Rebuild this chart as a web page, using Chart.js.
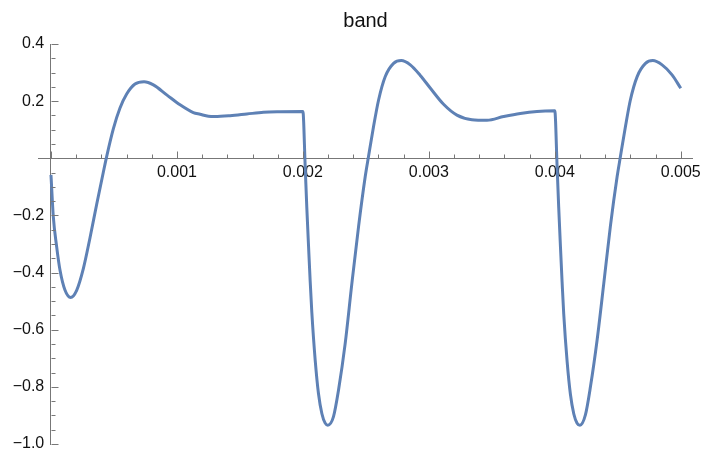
<!DOCTYPE html>
<html>
<head>
<meta charset="utf-8">
<script src="https://cdn.jsdelivr.net/npm/chart.js@4.4.1/dist/chart.umd.min.js"></script>
<style>
  html, body { margin: 0; padding: 0; background: #ffffff; }
  canvas { display: block; }
</style>
</head>
<body>
<canvas id="c" width="706" height="458"></canvas>
<script>
// ---- data ----
const xValues = [
  // first period
  0, 0.0000185, 0.000045, 0.0000715, 0.000111, 0.000156, 0.000204, 0.000257, 0.00031, 0.000363,
  0.000416, 0.000442, 0.000495, 0.000548, 0.000601, 0.000667, 0.000739, 0.000813, 0.000919, 0.001025,
  0.00113, 0.001184, 0.00125, 0.0013, 0.001422, 0.001555, 0.001687, 0.00182, 0.002,
  // second period
  0.002018, 0.002031, 0.002045, 0.002058, 0.002071, 0.002098, 0.002124, 0.002151, 0.002177, 0.002198,
  0.002243, 0.002283, 0.002336, 0.002389, 0.002442, 0.002495, 0.002521, 0.002561, 0.002601, 0.002654,
  0.00272, 0.002781, 0.002853, 0.002932, 0.003011, 0.003117, 0.003223, 0.003342, 0.003462, 0.003594,
  0.003726, 0.003859, 0.004,
  // third period
  0.004018, 0.004031, 0.004045, 0.004058, 0.004071, 0.004098, 0.004124, 0.004151, 0.004177, 0.0042,
  0.004243, 0.004283, 0.004336, 0.004389, 0.004441, 0.004495, 0.004521, 0.004561, 0.0046, 0.004654,
  0.00472, 0.004778, 0.004852, 0.004931, 0.005
];
const yValues = [
  // first period
  -0.058, -0.204, -0.309, -0.391, -0.461, -0.487, -0.462, -0.386, -0.278, -0.161,
  -0.048, 0.006, 0.103, 0.176, 0.225, 0.260, 0.268, 0.257, 0.222, 0.187,
  0.160, 0.154, 0.147, 0.146, 0.149, 0.155, 0.161, 0.163, 0.164,
  // second period
  -0.025, -0.171, -0.308, -0.431, -0.539, -0.708, -0.824, -0.894, -0.927, -0.934,
  -0.904, -0.811, -0.648, -0.438, -0.239, -0.064, 0.006, 0.111, 0.204, 0.286,
  0.332, 0.342, 0.327, 0.290, 0.246, 0.189, 0.151, 0.135, 0.133, 0.146,
  0.157, 0.164, 0.166,
  // third period
  -0.025, -0.171, -0.310, -0.433, -0.545, -0.712, -0.826, -0.895, -0.927, -0.934,
  -0.898, -0.800, -0.636, -0.438, -0.239, -0.064, 0.006, 0.111, 0.204, 0.286,
  0.332, 0.342, 0.327, 0.292, 0.245
];
const chartTitle = 'band';
const xTickValues = [0.001, 0.002, 0.003, 0.004, 0.005];
const xTickLabels = ['0.001', '0.002', '0.003', '0.004', '0.005'];
const yTickValues = [-1.0, -0.8, -0.6, -0.4, -0.2, 0.2, 0.4];
const yTickLabels = ['\u22121.0', '\u22120.8', '\u22120.6', '\u22120.4', '\u22120.2', '0.2', '0.4'];

// ---- style ----
const LINE_COLOR = '#5e81b5';
const AXIS_COLOR = '#777777';
const LABEL_COLOR = '#111111';
const FONT = '"Liberation Sans", Arial, Helvetica, sans-serif';
const X_MIN = -0.000103, X_MAX = 0.005093;
const Y_MIN = -1.0, Y_MAX = 0.4;
const Y_LABEL_ANCHOR = -0.0000532; // x value where the right edge of the y tick labels sits

const points = xValues.map((x, i) => ({ x: x, y: yValues[i] }));

// minor/major tick marks drawn through the scales, pointing into the plot like the reference
const tickMarks = {
  id: 'tickMarks',
  afterDatasetsDraw(chart) {
    const ctx = chart.ctx;
    const xs = chart.scales.x, ys = chart.scales.y;
    const x0 = Math.round(xs.getPixelForValue(0)) + 0.5;
    const y0 = Math.round(ys.getPixelForValue(0)) + 0.5;
    ctx.save();
    ctx.strokeStyle = AXIS_COLOR;
    ctx.lineWidth = 1;
    ctx.beginPath();
    for (let k = 0; k <= 25; k++) {
      const v = k * 0.0002;
      const px = Math.round(xs.getPixelForValue(v)) + 0.5;
      const len = (k % 5 === 0) ? 7 : 4;
      ctx.moveTo(px, y0);
      ctx.lineTo(px, y0 - len);
    }
    for (let k = -20; k <= 8; k++) {
      const v = k * 0.05;
      const py = Math.round(ys.getPixelForValue(v)) + 0.5;
      const len = (k % 4 === 0) ? 7 : 4;
      ctx.moveTo(x0, py);
      ctx.lineTo(x0 + len, py);
    }
    ctx.stroke();
    ctx.restore();
  }
};

new Chart(document.getElementById('c'), {
  type: 'scatter',
  data: {
    datasets: [{
      data: points,
      showLine: true,
      borderColor: LINE_COLOR,
      backgroundColor: LINE_COLOR,
      borderWidth: 3,
      pointRadius: 0,
      pointHoverRadius: 0,
      tension: 0.4,
      cubicInterpolationMode: 'monotone',
      fill: false
    }]
  },
  options: {
    responsive: false,
    animation: false,
    events: [],
    layout: { padding: { left: 38, right: 13, top: 0, bottom: 14 } },
    plugins: {
      legend: { display: false },
      tooltip: { enabled: false },
      title: {
        display: true,
        text: chartTitle,
        color: LABEL_COLOR,
        font: { family: FONT, size: 20, weight: 'normal' },
        padding: { top: 9, bottom: 11 }
      }
    },
    scales: {
      x: {
        type: 'linear',
        min: X_MIN,
        max: X_MAX,
        position: { y: 0 },
        grid: { display: false, drawTicks: false, tickLength: 0 },
        border: { display: true, color: AXIS_COLOR, width: 1 },
        afterBuildTicks: (axis) => { axis.ticks = xTickValues.map(v => ({ value: v })); },
        ticks: {
          autoSkip: false,
          maxRotation: 0,
          padding: 5,
          color: LABEL_COLOR,
          font: { family: FONT, size: 16 },
          callback: (v, i) => xTickLabels[i]
        }
      },
      y: {
        type: 'linear',
        min: Y_MIN,
        max: Y_MAX,
        position: { x: 0 },
        grid: { display: false, drawTicks: false, tickLength: 0 },
        border: { display: true, color: AXIS_COLOR, width: 1 },
        afterBuildTicks: (axis) => { axis.ticks = yTickValues.map(v => ({ value: v })); },
        ticks: { display: false }
      },
      yLabels: {
        type: 'linear',
        axis: 'y',
        min: Y_MIN,
        max: Y_MAX,
        position: { x: Y_LABEL_ANCHOR },
        grid: { display: false, drawTicks: false, tickLength: 0 },
        border: { display: false },
        afterBuildTicks: (axis) => { axis.ticks = yTickValues.map(v => ({ value: v })); },
        ticks: {
          autoSkip: false,
          padding: 0,
          color: LABEL_COLOR,
          font: { family: FONT, size: 16 },
          callback: (v, i) => yTickLabels[i]
        }
      }
    }
  },
  plugins: [tickMarks]
});
</script>
</body>
</html>
